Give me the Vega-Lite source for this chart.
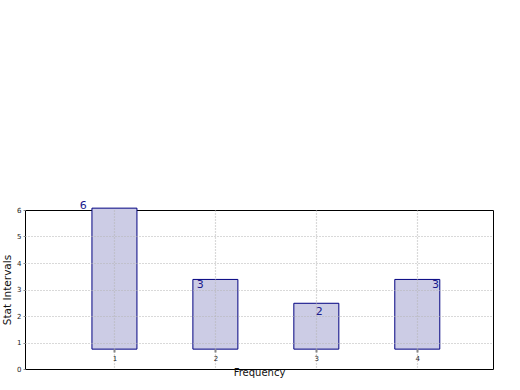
{
  "$schema": "https://vega.github.io/schema/vega-lite/v6.json",
  "autosize": "none",
  "width": 468,
  "height": 159,
  "padding": {"left": 25, "top": 210, "right": 27, "bottom": 21},
  "background": "white",
  "config": {
    "font": "DejaVu Sans",
    "view": {"stroke": "black", "strokeWidth": 1}
  },
  "datasets": {
    "bars": [
      {"freq": 1, "lo": 0.75, "val": 6.07},
      {"freq": 2, "lo": 0.75, "val": 3.38},
      {"freq": 3, "lo": 0.75, "val": 2.48},
      {"freq": 4, "lo": 0.75, "val": 3.38}
    ],
    "labels": [
      {"lx": 0.69, "ly": 6.15, "text": "6"},
      {"lx": 1.85, "ly": 3.17, "text": "3"},
      {"lx": 3.03, "ly": 2.15, "text": "2"},
      {"lx": 4.18, "ly": 3.17, "text": "3"}
    ]
  },
  "encoding": {
    "x": {"type": "quantitative",
      "scale": {"domain": [0.114, 4.75], "nice": false, "zero": false, "padding": 0},
      "axis": {
        "title": "Frequency", "values": [1, 2, 3, 4], "format": "d", "offset": -20,
        "domain": false, "labelFontSize": 7, "labelColor": "#222", "labelPadding": 2, "labelOverlap": false,
        "tickSize": 3, "tickColor": "#888", "tickWidth": 2,
        "grid": true, "gridDash": [1, 2], "gridColor": "#b4b4b4", "gridWidth": 1.2, "zindex": 1,
        "titleFontSize": 10, "titleFontWeight": "normal", "titleColor": "#111",
        "titleY": 26, "titleBaseline": "alphabetic"
      }
    },
    "y": {"type": "quantitative",
      "scale": {"domain": [0, 6], "nice": false, "padding": 0},
      "axis": {
        "title": "Stat Intervals", "values": [0, 1, 2, 3, 4, 5, 6], "format": "d",
        "domain": false, "labelFontSize": 7, "labelColor": "#222", "labelPadding": 2, "labelOverlap": false,
        "tickSize": 2, "tickColor": "#888",
        "grid": true, "gridDash": [1, 2], "gridColor": "#b4b4b4", "gridWidth": 1.2, "zindex": 1,
        "gridOpacity": {"condition": {"test": "datum.value == 6 || datum.value == 0", "value": 0}, "value": 1},
        "titleFontSize": 10.5, "titleFontWeight": "normal", "titleColor": "#111", "titlePadding": 4
      }
    }
  },
  "layer": [
    {
      "data": {"name": "bars"},
      "mark": {"type": "bar", "size": 45, "fill": "#CCCCE5", "stroke": "#000080", "strokeWidth": 1},
      "encoding": {
        "x": {"field": "freq", "type": "quantitative"},
        "y": {"field": "val", "type": "quantitative"},
        "y2": {"field": "lo"}
      }
    },
    {
      "data": {"name": "labels"},
      "mark": {"type": "text", "fontSize": 11, "color": "#1a1a8c", "align": "center", "baseline": "middle"},
      "encoding": {
        "x": {"field": "lx", "type": "quantitative"},
        "y": {"field": "ly", "type": "quantitative"},
        "text": {"field": "text"}
      }
    }
  ]
}
